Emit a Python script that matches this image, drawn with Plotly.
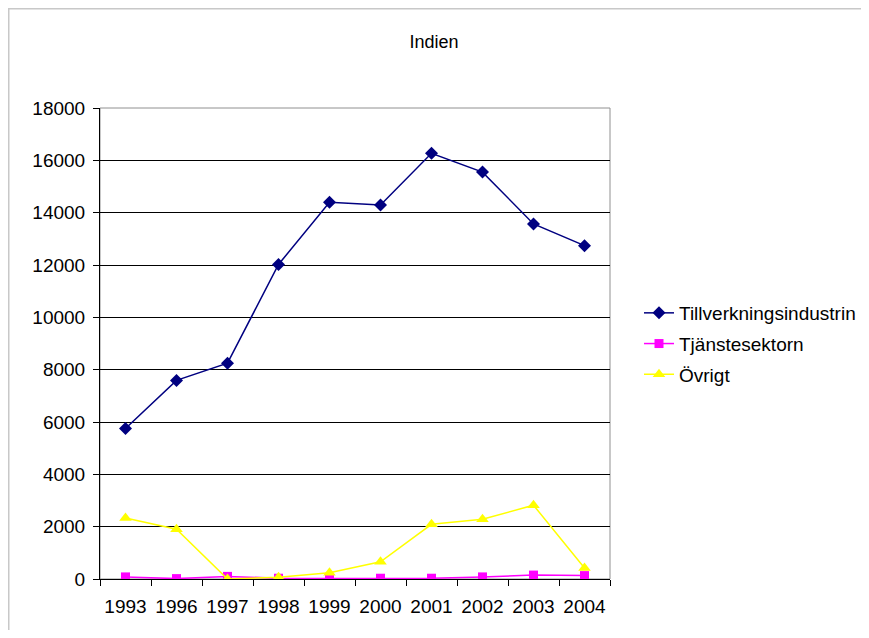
import plotly.graph_objects as go

years = ["1993", "1996", "1997", "1998", "1999", "2000", "2001", "2002", "2003", "2004"]
tillverkning = [5750, 7590, 8250, 12020, 14400, 14290, 16270, 15550, 13570, 12740]
tjanste = [80, 15, 100, 30, 20, 30, 30, 80, 150, 130]
ovrigt = [2330, 1900, 0, 65, 240, 660, 2090, 2280, 2820, 420]
y_ticks = [0, 2000, 4000, 6000, 8000, 10000, 12000, 14000, 16000, 18000]

font_family = "Liberation Sans, Arial, sans-serif"

# The page body has an 8px margin, so the figure is drawn at (8, 8).
W, H = 861, 622
L, R, T, B = 92, 259, 100, 51
PW, PH = W - L - R, H - T - B

fig = go.Figure()
fig.add_trace(go.Scatter(x=years, y=tillverkning, name="Tillverkningsindustrin",
                         mode="lines+markers", legendgroup="a",
                         line=dict(color="#000080", width=1.5),
                         marker=dict(symbol="diamond", size=10, color="#000080")))
fig.add_trace(go.Scatter(x=years, y=tjanste, name="Tjänstesektorn",
                         mode="lines+markers", legendgroup="b",
                         line=dict(color="#FF00FF", width=1.5),
                         marker=dict(symbol="square", size=9, color="#FF00FF")))
fig.add_trace(go.Scatter(x=years, y=ovrigt, name="Övrigt",
                         mode="lines+markers", legendgroup="c",
                         line=dict(color="#FFFF00", width=1.5),
                         marker=dict(symbol="triangle-up", size=11, color="#FFFF00")))

fig.update_layout(
    width=W, height=H,
    margin=dict(l=L, r=R, t=T, b=B, autoexpand=False),
    paper_bgcolor="white", plot_bgcolor="white",
    font=dict(family=font_family, size=19, color="black"),
    title=dict(text="Indien", x=(434 - 8) / W, xref="container", xanchor="center",
               y=1 - 34 / H, yref="container", yanchor="middle",
               font=dict(size=18, family=font_family, color="black")),
    showlegend=True,
    legend=dict(x=(631 - L) / PW, xanchor="left", y=(571 - 336) / PH, yanchor="middle",
                font=dict(size=19, family=font_family), tracegroupgap=3,
                traceorder="grouped", bgcolor="rgba(0,0,0,0)"),
    xaxis=dict(type="category", showgrid=False, showline=True, linecolor="black",
               linewidth=1, ticks="outside", tickson="boundaries", ticklen=6,
               tickcolor="black", range=[-0.5, 9.5], zeroline=False, tickangle=0,
               ticklabelstandoff=10, tickfont=dict(size=19)),
    yaxis=dict(range=[0, 18000], tickvals=y_ticks, tickformat="d", showgrid=True,
               gridcolor="black", gridwidth=1, showline=True, linecolor="black",
               linewidth=1, ticks="outside", ticklen=6, tickcolor="black",
               zeroline=False, ticklabelstandoff=4, tickfont=dict(size=19)),
    shapes=[
        dict(type="rect", xref="paper", yref="paper", x0=0, x1=1, y0=0, y1=1,
             line=dict(color="#909090", width=1), layer="below"),
        dict(type="line", xref="paper", yref="paper", x0=-L / PW, x1=1 + R / PW,
             y0=1 + (T - 0.5) / PH, y1=1 + (T - 0.5) / PH,
             line=dict(color="#C8C8C8", width=2), layer="below"),
        dict(type="line", xref="paper", yref="paper", x0=-(L - 0.5) / PW, x1=-(L - 0.5) / PW,
             y0=-B / PH, y1=1 + T / PH,
             line=dict(color="#C8C8C8", width=2), layer="below"),
    ],
)

fig.write_html("out.html")
